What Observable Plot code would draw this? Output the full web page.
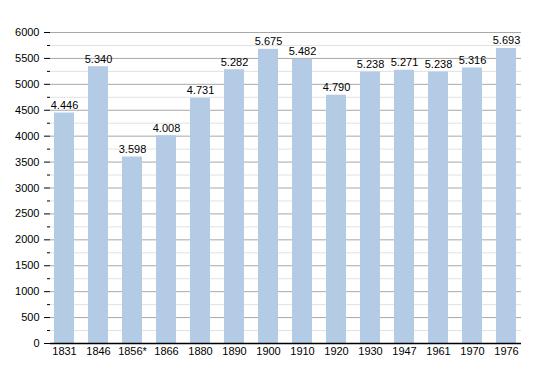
<!DOCTYPE html>
<html>
<head>
<meta charset="utf-8">
<script src="https://cdn.jsdelivr.net/npm/d3@7"></script>
<script src="https://cdn.jsdelivr.net/npm/@observablehq/plot@0.6"></script>
<style>
  html, body { margin: 0; padding: 0; background: #fff; }
  #chart svg { display: block; }
</style>
</head>
<body>
<div id="chart"></div>
<script>
const years = ["1831","1846","1856*","1866","1880","1890","1900","1910","1920","1930","1947","1961","1970","1976"];
const population = [4446,5340,3598,4008,4731,5282,5675,5482,4790,5238,5271,5238,5316,5693];
const majorTicks = [0,500,1000,1500,2000,2500,3000,3500,4000,4500,5000,5500,6000];
const minorTicks = [250,750,1250,1750,2250,2750,3250,3750,4250,4750,5250,5750];

const data = years.map((y, i) => ({year: y, pop: population[i]}));
const fmt = v => d3.format(",")(v).replace(/,/g, ".");

const chart = Plot.plot({
  width: 550,
  height: 373,
  marginLeft: 50,
  marginRight: 29,
  marginTop: 32,
  marginBottom: 30,
  style: {fontFamily: "'Liberation Sans', Arial, sans-serif", fontSize: "11px", color: "#000", background: "#fff"},
  x: {domain: years, paddingInner: 0.41, paddingOuter: 0.04, label: null},
  y: {domain: [0, 6000], label: null},
  marks: [
    Plot.ruleY(minorTicks, {stroke: "#e2e2e2", strokeWidth: 1}),
    Plot.ruleY(majorTicks.filter(d => d > 0), {stroke: "#a8a8a8", strokeWidth: 1}),
    Plot.barY(data, {x: "year", y: "pop", fill: "#b3cbe5"}),
    Plot.text(data, {x: "year", y: "pop", text: d => fmt(d.pop), dy: -4, lineAnchor: "bottom", fill: "#000", fontSize: 11}),
    Plot.axisY({ticks: majorTicks, tickSize: 6, tickPadding: 5, tickFormat: d => String(d), fontSize: 11, stroke: "#000"}),
    Plot.axisY({ticks: minorTicks, tickSize: 3, tickFormat: () => "", stroke: "#000"}),
    Plot.axisX({tickSize: 0, tickPadding: 4, fontSize: 11}),
    Plot.ruleX([0], {frameAnchor: "left", stroke: "#000", strokeWidth: 1.5}),
    Plot.ruleY([0], {stroke: "#000", strokeWidth: 1.5})
  ]
});
document.getElementById("chart").appendChild(chart);
</script>
</body>
</html>
